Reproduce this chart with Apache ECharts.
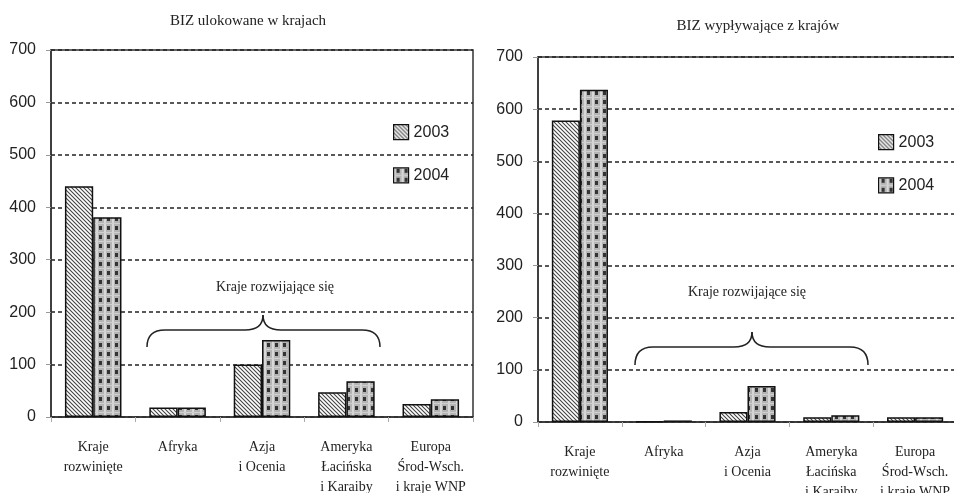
<!DOCTYPE html>
<html>
<head>
<meta charset="utf-8">
<script src="https://cdn.jsdelivr.net/npm/echarts@6/dist/echarts.min.js"></script>
<style>
html,body{margin:0;padding:0;background:#fff;}
#chart{width:954px;height:493px;}
</style>
</head>
<body>
<div id="chart"></div>
<script>
// ---- data ----
var categories = ['Kraje\nrozwinięte', 'Afryka', 'Azja\ni Ocenia', 'Ameryka\nŁacińska\ni Karaiby', 'Europa\nŚrod-Wsch.\ni kraje WNP'];
var seriesNames = ['2003', '2004'];
var inflow2003 = [440, 18, 100, 47, 25];
var inflow2004 = [381, 18, 147, 68, 34];
var outflow2003 = [578, 1, 19, 9, 9];
var outflow2004 = [637, 3, 69, 13, 9];
var yTicks = [0, 100, 200, 300, 400, 500, 600, 700];
var titles = ['BIZ ulokowane w krajach', 'BIZ wypływające z krajów'];
var groupNote = 'Kraje rozwijające się';

// ---- patterns ----
function hatchPattern() {
  var c = document.createElement('canvas');
  c.width = 4; c.height = 4;
  var g = c.getContext('2d');
  g.fillStyle = '#ffffff'; g.fillRect(0, 0, 4, 4);
  g.strokeStyle = '#444'; g.lineWidth = 1.1;
  g.beginPath();
  g.moveTo(-1, -1); g.lineTo(5, 5);
  g.moveTo(-1, 3); g.lineTo(1, 5);
  g.moveTo(3, -1); g.lineTo(5, 1);
  g.stroke();
  return c;
}
function checkPattern() {
  var c = document.createElement('canvas');
  c.width = 8; c.height = 9;
  var g = c.getContext('2d');
  g.fillStyle = '#b4b4b4'; g.fillRect(0, 0, 8, 9);
  g.fillStyle = '#d8d8d8'; g.fillRect(0, 0, 2, 9);
  g.fillStyle = '#d0d0d0'; g.fillRect(0, 7, 8, 1);
  g.fillStyle = '#333333'; g.fillRect(3, 1, 3, 4);
  return c;
}
var pat2003 = { image: hatchPattern(), repeat: 'repeat' };
var pat2004 = { image: checkPattern(), repeat: 'repeat' };

var serif = 'Liberation Serif, Times New Roman, serif';
var sans = 'Liberation Sans, Arial, sans-serif';

function yAxis(gi) {
  return {
    type: 'value', gridIndex: gi, min: yTicks[0], max: yTicks[yTicks.length - 1], interval: 100,
    axisLine: { show: true, lineStyle: { color: '#333', width: 1.5 } },
    axisTick: { show: true, length: 5, lineStyle: { color: '#999' } },
    axisLabel: { margin: 15, fontFamily: sans, fontSize: 16, color: '#222' },
    splitLine: { show: true, lineStyle: { color: '#222', type: [4, 3], width: 1.5 } }
  };
}
function xAxis(gi) {
  return {
    type: 'category', gridIndex: gi, data: categories,
    axisLine: { show: true, lineStyle: { color: '#333', width: 1.5 } },
    axisTick: { show: true, length: 5, lineStyle: { color: '#aaa' } },
    axisLabel: { margin: 20, fontFamily: serif, fontSize: 14, lineHeight: 20, color: '#222', interval: 0 }
  };
}
function bar(name, data, gi, pat) {
  return {
    name: name, type: 'bar', xAxisIndex: gi, yAxisIndex: gi, data: data,
    barGap: 0, barCategoryGap: '33%',
    itemStyle: { color: pat, borderColor: '#111', borderWidth: 1.5 },
    emphasis: { disabled: true }, animation: false
  };
}
function brace(x1, x2, xm, yEnd, yMid, yTip) {
  var r = 18;
  var st = { fill: 'none', stroke: '#222', lineWidth: 1.5 };
  function q(ax, ay, cx, cy, bx, by) {
    return { type: 'bezierCurve', shape: { x1: ax, y1: ay, cpx1: cx, cpy1: cy, x2: bx, y2: by }, style: st };
  }
  function l(ax, ay, bx, by) {
    return { type: 'line', shape: { x1: ax, y1: ay, x2: bx, y2: by }, style: st };
  }
  return [
    q(x1, yEnd, x1, yMid, x1 + r, yMid),
    l(x1 + r, yMid, xm - r, yMid),
    q(xm - r, yMid, xm, yMid, xm, yTip),
    q(xm, yTip, xm, yMid, xm + r, yMid),
    l(xm + r, yMid, x2 - r, yMid),
    q(x2 - r, yMid, x2, yMid, x2, yEnd)
  ];
}

var graphics = []
  .concat(brace(147, 380, 263, 347, 330, 315))
  .concat(brace(635, 868, 752, 365, 347, 332))
  .concat([
    { type: 'text', x: 275, y: 287, style: { text: groupNote, font: '14px ' + serif, fill: '#222', align: 'center', verticalAlign: 'middle' } },
    { type: 'text', x: 747, y: 292, style: { text: groupNote, font: '14px ' + serif, fill: '#222', align: 'center', verticalAlign: 'middle' } }
  ]);

var legendBase = { data: seriesNames, orient: 'vertical', padding: 0, itemWidth: 15, itemHeight: 15, itemGap: 27,
  icon: 'rect', textStyle: { fontFamily: sans, fontSize: 16, color: '#222' }, selectedMode: false,
  itemStyle: { borderColor: '#111', borderWidth: 1.2 } };

var chart = echarts.init(document.getElementById('chart'), null, { renderer: 'canvas' });
chart.setOption({
  animation: false,
  backgroundColor: '#fff',
  title: [
    { text: titles[0], left: 243, top: 9, textAlign: 'center', textStyle: { fontFamily: serif, fontSize: 15, fontWeight: 'normal', color: '#222' } },
    { text: titles[1], left: 753, top: 14, textAlign: 'center', textStyle: { fontFamily: serif, fontSize: 15, fontWeight: 'normal', color: '#222' } }
  ],
  legend: [
    Object.assign({}, legendBase, { left: 393, top: 124 }),
    Object.assign({}, legendBase, { left: 878, top: 134 })
  ],
  grid: [
    { left: 51, right: 481, top: 50, bottom: 76, containLabel: false, outerBoundsMode: 'none', show: true, borderColor: '#333', borderWidth: 1.5, backgroundColor: 'transparent' },
    { left: 538, right: -3, top: 57, bottom: 71, containLabel: false, outerBoundsMode: 'none', show: true, borderColor: '#333', borderWidth: 1.5, backgroundColor: 'transparent' }
  ],
  xAxis: [xAxis(0), xAxis(1)],
  yAxis: [yAxis(0), yAxis(1)],
  series: [
    bar(seriesNames[0], inflow2003, 0, pat2003),
    bar(seriesNames[1], inflow2004, 0, pat2004),
    bar(seriesNames[0], outflow2003, 1, pat2003),
    bar(seriesNames[1], outflow2004, 1, pat2004)
  ],
  graphic: graphics
});
</script>
</body>
</html>
